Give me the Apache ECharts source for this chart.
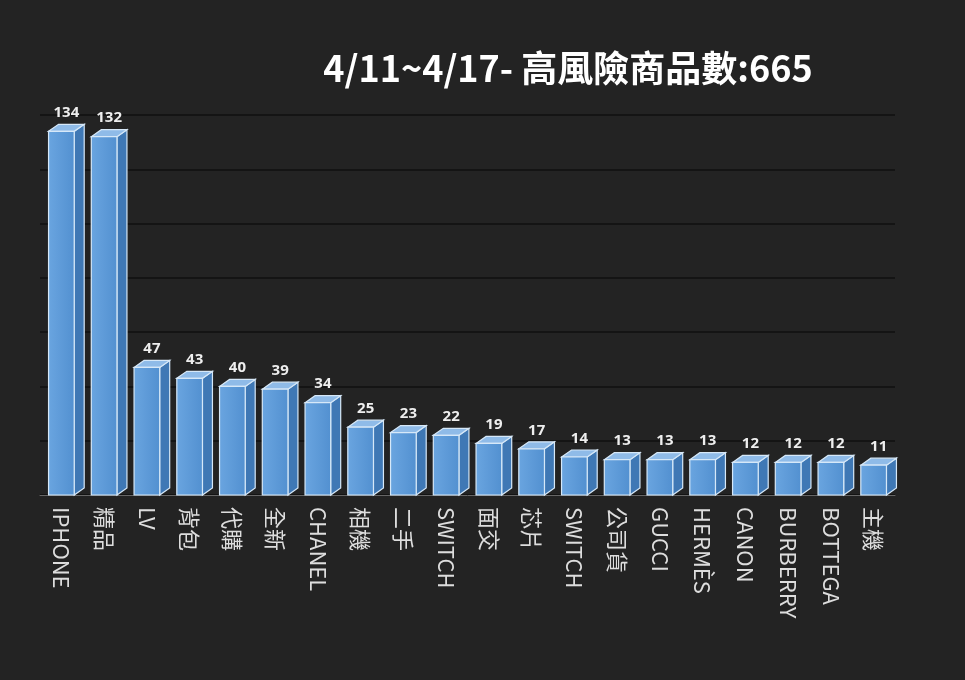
<!DOCTYPE html>
<html><head><meta charset="utf-8">
<script src="https://cdn.jsdelivr.net/npm/echarts@6/dist/echarts.min.js"></script>
<style>html,body{margin:0;background:#232323}#c{width:965px;height:680px}</style>
</head><body><div id="c"></div>
<script>
var categories=['IPHONE','精品','LV','背包','代購','全新','CHANEL','相機','二手','SWITCH','面交','芯片','SWITCH','公司貨','GUCCI','HERMÈS','CANON','BURBERRY','BOTTEGA','主機'];
var values=[134,132,47,43,40,39,34,25,23,22,19,17,14,13,13,13,12,12,12,11];
var titleText='4/11~4/17- 高風險商品數:665';
var chart=echarts.init(document.getElementById('c'));
chart.setOption({
 backgroundColor:'#232323',
 title:{text:titleText,left:563,top:45,textAlign:'center',textStyle:{color:'#fff',fontSize:36,fontWeight:'bold',fontFamily:'Noto Sans CJK TC'}},
 grid:{left:40,right:70,top:115,bottom:185},
 xAxis:{type:'category',data:categories,axisLine:{lineStyle:{color:'#666'}},axisTick:{show:false},
  axisLabel:{rotate:-90,color:'#ddd',fontSize:22,fontFamily:'Noto Sans CJK TC',interval:0,margin:12,align:'left',verticalAlign:'middle'}},
 yAxis:{type:'value',min:0,max:140,interval:20,axisLabel:{show:false},axisLine:{show:false},splitLine:{lineStyle:{color:'#111',width:1.5}}},
 series:[{type:'custom',data:values,
  renderItem:function(params,api){
   var i=params.dataIndex,v=api.value(1);
   var p=api.coord([i,v]),b=api.coord([i,0]);
   var w=api.size([1,0])[0]*0.6,dx=10,dy=-7;
   var x0=p[0]-w/2,x1=p[0]+w/2;
   var st={stroke:'#d6e8f8',lineWidth:1.2};
   return {type:'group',children:[
    {type:'polygon',shape:{points:[[x1,p[1]],[x1+dx,p[1]+dy],[x1+dx,b[1]+dy],[x1,b[1]]]},style:Object.assign({fill:'#3f78b5'},st)},
    {type:'polygon',shape:{points:[[x0,p[1]],[x0+dx,p[1]+dy],[x1+dx,p[1]+dy],[x1,p[1]]]},style:Object.assign({fill:'#8fbbe8'},st)},
    {type:'rect',shape:{x:x0,y:p[1],width:w,height:b[1]-p[1]},style:Object.assign({fill:new echarts.graphic.LinearGradient(0,0,1,0,[{offset:0,color:'#6aa5e0'},{offset:1,color:'#5290d0'}])},st)},
    {type:'text',style:{text:String(v),x:p[0]+dx/2,y:p[1]+dy-4,align:'center',verticalAlign:'bottom',fill:'#eee',font:'bold 15px "Open Sans"'}}
   ]};
  }
 }]
});
</script></body></html>
